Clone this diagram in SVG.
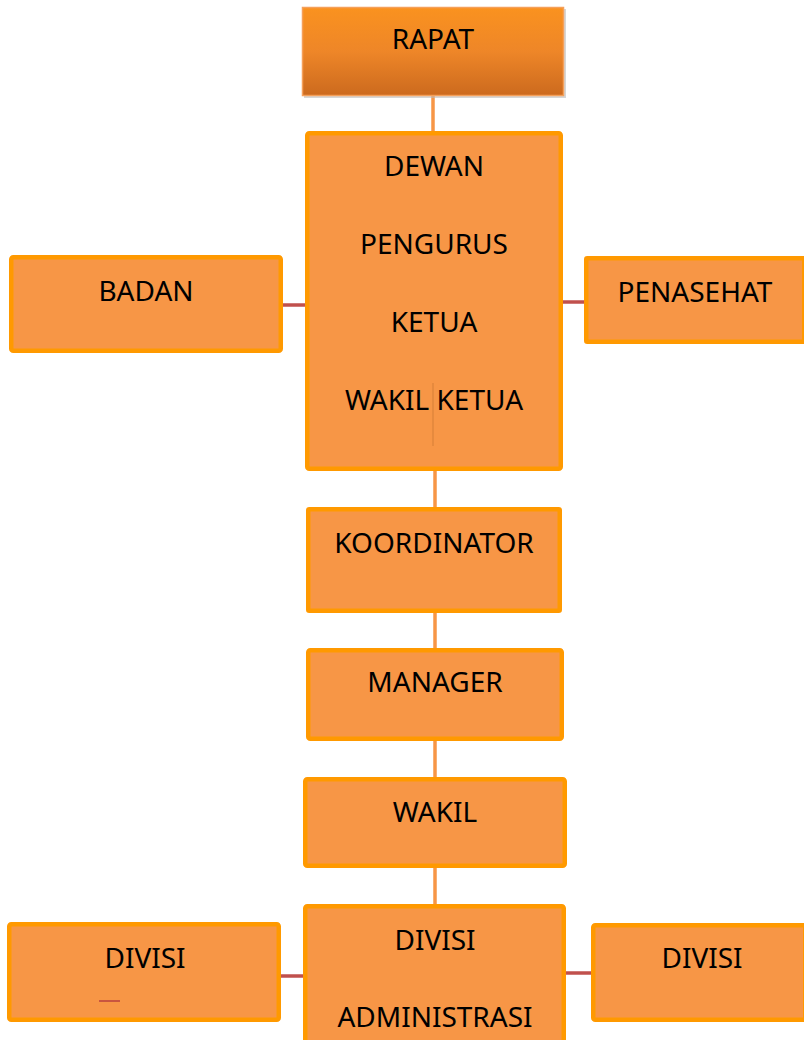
<svg xmlns="http://www.w3.org/2000/svg" width="804" height="1040" viewBox="0 0 804 1040">
<defs>
<linearGradient id="gRapat" x1="0" y1="0" x2="0" y2="1">
<stop offset="0" stop-color="#FA921F"/>
<stop offset="0.5" stop-color="#EE8628"/>
<stop offset="1" stop-color="#CC6A1E"/>
</linearGradient>
<style>
.box{fill:#F79646;stroke:#FF9900;stroke-width:4.5;}
.lbl{font-family:"Noto Sans","Open Sans","Liberation Sans",sans-serif;font-size:28px;fill:#000;text-anchor:middle;}
.cv{stroke:#F79646;stroke-width:3.5;fill:none;}
.ch{stroke:#C0504D;stroke-width:3.5;fill:none;}
</style>
</defs>
<rect width="804" height="1040" fill="#FFFFFF"/>
<g id="connectors">
<line class="cv" x1="433" y1="96" x2="433" y2="133"/>
<line class="cv" x1="435" y1="470" x2="435" y2="508"/>
<line class="cv" x1="435" y1="612" x2="435" y2="649"/>
<line class="cv" x1="435" y1="740" x2="435" y2="778"/>
<line class="cv" x1="435" y1="867" x2="435" y2="906"/>
<line class="ch" x1="282" y1="305" x2="307" y2="305"/>
<line class="ch" x1="562" y1="302" x2="586" y2="302"/>
<line class="ch" x1="279" y1="976" x2="305" y2="976"/>
<line class="ch" x1="565" y1="973" x2="593" y2="973"/>
</g>
<g id="rapat">
<rect x="304" y="9" width="262" height="89" fill="#BBBBBB" opacity="0.6"/>
<rect x="302.5" y="7.5" width="261" height="88" fill="url(#gRapat)" stroke="#F5A05A" stroke-width="1.5"/>
<text class="lbl" x="433" y="49">RAPAT</text>
</g>
<g id="dewan">
<rect class="box" x="307.25" y="133.25" width="253.5" height="335.5" rx="2"/>
<line x1="433" y1="383" x2="433" y2="446" stroke="#E0853C" stroke-width="2" opacity="0.7"/>
<text class="lbl" x="434" y="176">DEWAN</text>
<text class="lbl" x="434" y="254">PENGURUS</text>
<text class="lbl" x="434" y="332">KETUA</text>
<text class="lbl" x="434" y="410">WAKIL KETUA</text>
</g>
<g id="badan">
<rect class="box" x="11.25" y="257.25" width="269.5" height="93.5" rx="2"/>
<text class="lbl" x="146" y="301">BADAN</text>
</g>
<g id="penasehat">
<rect class="box" x="586.25" y="258.25" width="218" height="83.5" rx="1"/>
<text class="lbl" x="695" y="302">PENASEHAT</text>
</g>
<g id="koordinator">
<rect class="box" x="308.25" y="509.25" width="251.5" height="101.5" rx="1"/>
<text class="lbl" x="434" y="553">KOORDINATOR</text>
</g>
<g id="manager">
<rect class="box" x="308.25" y="650.25" width="253.5" height="88.5" rx="2"/>
<text class="lbl" x="435" y="692">MANAGER</text>
</g>
<g id="wakil">
<rect class="box" x="305.25" y="779.25" width="259.5" height="86.5" rx="2"/>
<text class="lbl" x="435" y="822">WAKIL</text>
</g>
<g id="divisi-administrasi">
<rect class="box" x="305.25" y="906.25" width="258.5" height="145" rx="2"/>
<text class="lbl" x="435" y="950">DIVISI</text>
<text class="lbl" x="435" y="1027">ADMINISTRASI</text>
</g>
<g id="divisi-kiri">
<rect class="box" x="9.25" y="924.25" width="269.5" height="95.5" rx="2"/>
<text class="lbl" x="145" y="968">DIVISI</text>
<line x1="99" y1="1001" x2="120" y2="1001" stroke="#C9553F" stroke-width="2"/>
</g>
<g id="divisi-kanan">
<rect class="box" x="593.25" y="925.25" width="212" height="94.5" rx="2"/>
<text class="lbl" x="702" y="968">DIVISI</text>
</g>
</svg>
